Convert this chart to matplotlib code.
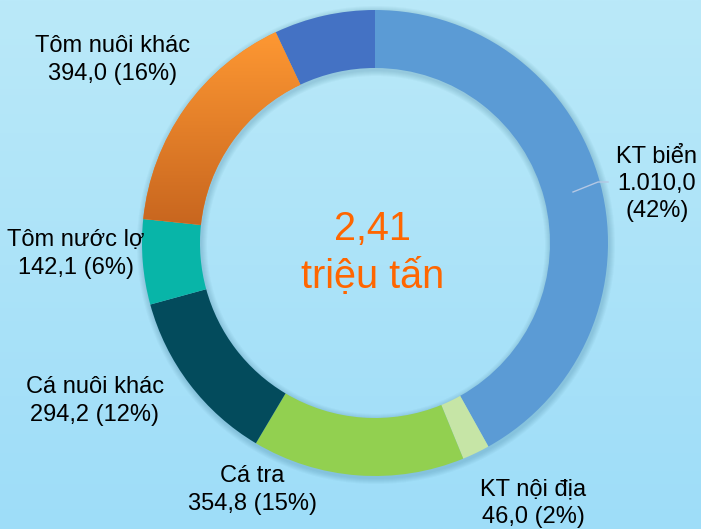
import numpy as np
import matplotlib.pyplot as plt
from matplotlib.patches import Wedge, Circle
from matplotlib.colors import LinearSegmentedColormap

plt.rcParams['font.family'] = ['Liberation Sans', 'DejaVu Sans']

# Sản lượng thủy sản (nghìn tấn)
categories = ['KT biển', 'KT nội địa', 'Cá tra', 'Cá nuôi khác',
              'Tôm nước lợ', 'Tôm nuôi khác', 'Khác']
values = [1010.0, 46.0, 354.8, 294.2, 142.1, 394.0, 168.9]
value_labels = ['1.010,0', '46,0', '354,8', '294,2', '142,1', '394,0', '']
pct_labels = ['42%', '2%', '15%', '12%', '6%', '16%', '']
colors = ['#5B9BD5', '#C6E5A6', '#92D050', '#034B5C', '#08B5A8', '#F0892B', '#4472C4']
total_text = '2,41'
unit_text = 'triệu tấn'

W, H = 701, 529
fig = plt.figure(figsize=(W / 100, H / 100), dpi=100)
ax = fig.add_axes([0, 0, 1, 1])

cx, cy = 375, H - 243
R, ring = 233, 58

# nền gradient xanh nhạt
bg = LinearSegmentedColormap.from_list('bg', ['#9EDDF8', '#BAE9F9'])
ax.imshow(np.linspace(0, 1, 256).reshape(-1, 1), cmap=bg, aspect='auto',
          extent=[0, W, 0, H], origin='lower', zorder=0)

# bóng mờ quanh vòng
for k in range(6):
    ax.add_patch(Wedge((cx + 1, cy - 2), R + 1 + k, 0, 360, width=ring + 2 + 2 * k,
                       facecolor='#1C5A78', edgecolor='none', alpha=0.035, zorder=1))

wedges, _ = ax.pie(values, colors=colors, startangle=90, counterclock=False,
                   radius=R, center=(cx, cy),
                   wedgeprops=dict(width=ring, edgecolor='none'))
for w in wedges:
    w.set_zorder(2)

# gradient cho phần Tôm nuôi khác
orange = LinearSegmentedColormap.from_list('og', ['#C8661F', '#FF9933'])
im = ax.imshow(np.linspace(0, 1, 256).reshape(-1, 1), cmap=orange, aspect='auto',
               extent=[cx - R, cx, H - 225, H - 28], origin='lower', zorder=3)
im.set_clip_path(wedges[5])

label_pos = {
    0: (657, 184, 'center'),
    1: (533, 503, 'center'),
    2: (252, 490, 'center'),
    3: (95, 401, 'center'),
    4: (76, 254, 'center'),
    5: (113, 60, 'center'),
}
for i, (x, y, ha) in label_pos.items():
    if i == 0:
        txt = f'{categories[i]}\n{value_labels[i]}\n({pct_labels[i]})'
    else:
        txt = f'{categories[i]}\n{value_labels[i]} ({pct_labels[i]})'
    ax.text(x, H - y, txt, ha=ha, va='center', fontsize=17, color='black',
            linespacing=1.3, zorder=5)

# đường dẫn nhãn KT biển
ax.plot([573, 598, 608], [H - 192, H - 182, H - 182], color='#B4C8E4', lw=1, zorder=4)

ax.text(cx - 3, H - 229, total_text, ha='center', va='center', fontsize=28.5,
        color='#FF6600', zorder=5)
ax.text(cx - 2, H - 277, unit_text, ha='center', va='center', fontsize=28.5,
        color='#FF6600', zorder=5)

ax.set_xlim(0, W)
ax.set_ylim(0, H)
ax.set_aspect('auto')
ax.axis('off')

fig.savefig('out.png', dpi=100)
